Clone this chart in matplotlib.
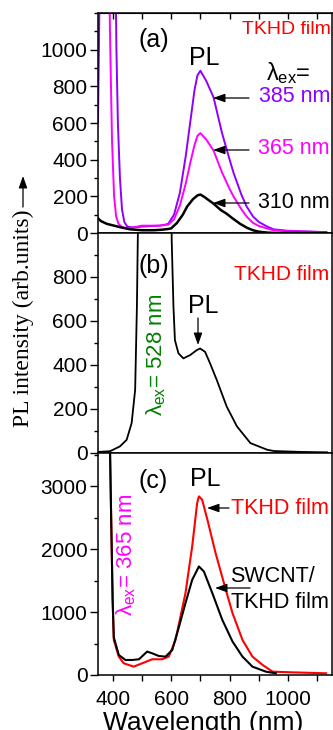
import matplotlib
matplotlib.use("Agg")
import matplotlib.pyplot as plt
from matplotlib.ticker import MultipleLocator, FixedLocator

plt.rcParams['font.family'] = ['Liberation Sans', 'DejaVu Sans']
plt.rcParams['mathtext.fontset'] = 'custom'
plt.rcParams['mathtext.rm'] = 'Liberation Sans'
plt.rcParams['mathtext.it'] = 'Liberation Sans'

# ---- (a) TKHD film, three excitation wavelengths ----
wl_a385 = [350, 353, 356, 410, 413, 418, 425, 432, 440, 450, 470, 500, 530, 560, 580, 590,
           610, 630, 650, 665, 680, 690, 700, 720, 745, 774, 800, 813, 840, 858, 880, 900,
           927, 950, 1000, 1050, 1100, 1130]
pl_a385 = [600, 1000, 1400, 1400, 1000, 600, 300, 130, 60, 35, 30, 35, 38, 40, 45, 50,
           100, 220, 420, 600, 780, 860, 885, 830, 740, 545, 400, 330, 210, 145, 90, 60,
           36, 20, 12, 9, 6, 5]

wl_a365 = [350, 388, 392, 398, 405, 412, 420, 430, 450, 470, 500, 530, 560, 580, 590, 610,
           630, 650, 665, 680, 690, 700, 720, 745, 774, 800, 813, 840, 858, 880, 900, 927,
           950, 1000, 1050, 1130]
pl_a365 = [1400, 1400, 1000, 500, 200, 90, 50, 35, 25, 30, 40, 40, 40, 45, 45, 75,
           150, 270, 380, 480, 530, 545, 510, 450, 330, 240, 200, 130, 90, 55, 38, 25,
           15, 10, 8, 5]

wl_a310 = [350, 360, 380, 400, 430, 460, 500, 540, 570, 590, 600, 620, 640, 655, 675, 690,
           700, 715, 745, 770, 790, 810, 836, 860, 880, 900, 930, 960, 1130]
pl_a310 = [80, 65, 50, 42, 30, 20, 15, 15, 18, 22, 25, 55, 100, 145, 185, 205,
           210, 195, 160, 125, 105, 80, 50, 28, 15, 7, 2, 0, 0]

# ---- (b) TKHD film, 528 nm excitation ----
wl_b = [350, 391, 425, 448, 465, 477, 483, 486, 492, 500, 590, 598, 602, 608, 613, 625,
        642, 665, 688, 699, 716, 733, 756, 790, 825, 871, 928, 951, 1042, 1133]
pl_b = [5, 8, 30, 60, 136, 287, 664, 966, 1600, 3000, 3000, 1600, 966, 664, 513, 453,
        430, 445, 468, 475, 460, 408, 332, 211, 121, 45, 15, 9, 5, 3]

# ---- (c) 365 nm excitation: TKHD film vs SWCNT/TKHD film ----
wl_c_tkhd = [385, 391, 395, 400, 404, 421, 438, 472, 501, 535, 569, 592, 615, 649, 672, 689,
             695, 706, 724, 752, 787, 810, 844, 878, 913, 947, 1016, 1130]
pl_c_tkhd = [4500, 3600, 2500, 1200, 557, 292, 186, 133, 186, 250, 250, 292, 557, 1300, 2045, 2735,
             2840, 2788, 2470, 1938, 1354, 982, 557, 292, 159, 53, 42, 27]

wl_c_swcnt = [385, 391, 395, 400, 404, 421, 444, 467, 490, 518, 535, 558, 581, 604, 627, 649,
              672, 695, 712, 741, 775, 810, 844, 878, 924, 958]
pl_c_swcnt = [4500, 3600, 2500, 1200, 600, 318, 239, 239, 250, 372, 345, 302, 292, 398, 770, 1142,
              1513, 1726, 1646, 1300, 876, 531, 292, 133, 53, 27]

x_major = [400, 600, 800, 1000]
x_labels = ['400', '600', '800', '1000']
ya_major = [0, 200, 400, 600, 800, 1000]
yb_major = [0, 200, 400, 600, 800]
yc_major = [0, 1000, 2000, 3000]

violet = '#8f00ff'
magenta = '#ff00ff'
red = '#ff0000'
green = '#008000'

W, H = 333, 730
fig = plt.figure(figsize=(W / 100, H / 100), dpi=100)


def frac_box(top_px, bot_px, left_px=98, right_px=332):
    return [left_px / W, 1 - bot_px / H, (right_px - left_px) / W, (bot_px - top_px) / H]


ax_a = fig.add_axes(frac_box(13, 233))
ax_b = fig.add_axes(frac_box(233, 453))
ax_c = fig.add_axes(frac_box(453, 675))

for ax in (ax_a, ax_b, ax_c):
    ax.set_xlim(350, 1150)
    ax.xaxis.set_major_locator(FixedLocator(x_major))
    ax.xaxis.set_minor_locator(MultipleLocator(100))
    ax.tick_params(axis='x', which='both', direction='out', length=4, width=1.0,
                   labelsize=15, pad=7)
    ax.tick_params(axis='y', which='major', direction='out', length=5.5, width=1.0,
                   labelsize=15, pad=2)
    ax.tick_params(axis='y', which='minor', direction='out', length=3, width=1.0)
    for s in ax.spines.values():
        s.set_linewidth(1.1)

ax_a.tick_params(axis='x', labelbottom=False)
ax_b.tick_params(axis='x', labelbottom=False)
top = ax_a.secondary_xaxis('top')
top.xaxis.set_major_locator(FixedLocator(x_major))
top.xaxis.set_minor_locator(MultipleLocator(100))
top.tick_params(which='both', direction='in', length=4, width=1.0, labeltop=False)
ax_c.set_xticklabels(x_labels)

# panel (a)
ax_a.plot(wl_a385, pl_a385, color=violet, lw=1.4)
ax_a.plot(wl_a365, pl_a365, color=magenta, lw=1.4)
ax_a.plot(wl_a310, pl_a310, color='black', lw=1.8)
ax_a.set_ylim(0, 1200)
ax_a.yaxis.set_major_locator(FixedLocator(ya_major))
ax_a.yaxis.set_minor_locator(MultipleLocator(100))

# panel (b)
ax_b.plot(wl_b, pl_b, color='black', lw=1.3)
ax_b.set_ylim(0, 1000)
ax_b.yaxis.set_major_locator(FixedLocator(yb_major))
ax_b.yaxis.set_minor_locator(FixedLocator([100, 300, 500, 700, 900]))

# panel (c)
ax_c.plot(wl_c_tkhd, pl_c_tkhd, color=red, lw=1.5)
ax_c.plot(wl_c_swcnt, pl_c_swcnt, color='black', lw=1.5)
ax_c.set_ylim(0, 3530)
ax_c.yaxis.set_major_locator(FixedLocator(yc_major))
ax_c.yaxis.set_minor_locator(MultipleLocator(500))


def px(x, y):
    return (x / W, 1 - y / H)


def ftext(x, y, s, **kw):
    kw.setdefault('ha', 'center')
    kw.setdefault('va', 'center')
    fig.text(*px(x, y), s, **kw)


def farrow(x0, y0, x1, y1):
    fig.add_artist(matplotlib.patches.FancyArrowPatch(
        px(x0, y0), px(x1, y1), transform=fig.transFigure,
        arrowstyle='-|>,head_length=4.5,head_width=1.6', mutation_scale=1.6,
        color='black', lw=0.9, shrinkA=0, shrinkB=0))


big = 18
mid = 15.5

# labels in (a)
ftext(154, 40, '(a)', fontsize=big)
ftext(331, 30, 'TKHD film', color=red, fontsize=14, ha='right')
ftext(204, 58, 'PL', fontsize=big)
ftext(288, 73, r'$\lambda_{\mathrm{ex}}$=', fontsize=17)
ftext(330, 96, '385 nm', color=violet, fontsize=mid, ha='right')
ftext(330, 148, '365 nm', color=magenta, fontsize=mid, ha='right')
ftext(330, 202, '310 nm', color='black', fontsize=mid, ha='right')
farrow(249, 98, 213, 98)
farrow(249, 150, 213, 150)
farrow(249, 203, 213, 203)

# labels in (b)
ftext(154, 266, '(b)', fontsize=big)
ftext(329, 275, 'TKHD film', color=red, fontsize=15, ha='right')
ftext(203, 306, 'PL', fontsize=big)
farrow(198, 318, 198, 345)
ftext(156, 355, r'$\lambda_{\mathrm{ex}}$= 528 nm', color=green, fontsize=16, rotation=90)

# labels in (c)
ftext(153, 481, '(c)', fontsize=big)
ftext(205, 479, 'PL', fontsize=big)
ftext(329, 508, 'TKHD film', color=red, fontsize=mid, ha='right')
farrow(229, 508, 207, 508)
ftext(230, 577, 'SWCNT/', fontsize=mid, ha='left')
ftext(329, 603, 'TKHD film', fontsize=mid, ha='right')
farrow(250, 588, 215, 588)
ftext(126, 555, r'$\lambda_{\mathrm{ex}}$= 365 nm', color=magenta, fontsize=16, rotation=90)

# axis titles
ftext(203, 711, 'Wavelength (nm)', fontsize=19, va='top')
ftext(23, 318, 'PL intensity (arb.units)', fontsize=17, rotation=90,
      family=['Liberation Serif', 'DejaVu Serif'])
farrow(23, 207, 23, 176)

fig.savefig('out.png', dpi=100)
